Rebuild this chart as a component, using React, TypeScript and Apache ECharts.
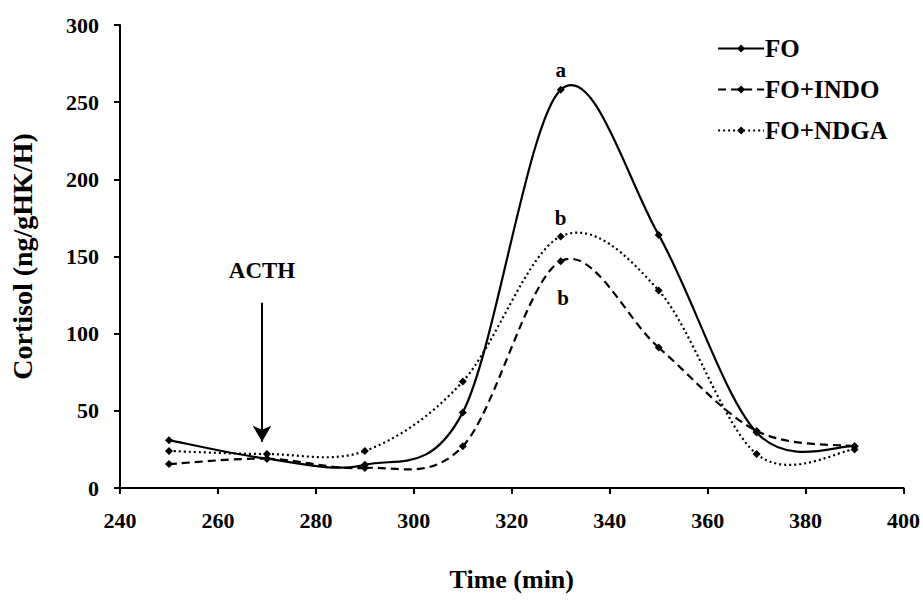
import React, { useEffect, useRef } from "react";
import * as echarts from "echarts";

const times = [250, 270, 290, 310, 330, 350, 370, 390];
const fo = [31, 19, 15, 49, 258, 164, 36, 27];
const foIndo = [15.5, 19, 13, 27, 147, 91, 37, 27];
const foNdga = [24, 22, 24, 69, 163, 128, 22, 25];

const xTicks = { min: 240, max: 400, interval: 20 };
const yTicks = { min: 0, max: 300, interval: 50 };

const annotations = [
  { text: "a", x: 330, y: 271 },
  { text: "b", x: 330, y: 175 },
  { text: "b", x: 330.5, y: 123 },
];
const acth = { text: "ACTH", x: 269, labelY: 141, from: 120, to: 30 };

const FONT = "Liberation Serif";
const LINE_W = 2.2;
const DASHES: Record<string, number[] | null> = {
  FO: null,
  "FO+INDO": [8, 5],
  "FO+NDGA": [2, 3],
};
const ECH_DASH: Record<string, any> = { FO: "solid", "FO+INDO": [8, 5], "FO+NDGA": [2, 3] };

export default function App() {
  const ref = useRef<HTMLDivElement>(null);
  useEffect(() => {
    if (!ref.current) return;
    const chart = echarts.init(ref.current, undefined, { renderer: "svg" });

    // Catmull-Rom (Excel-like) smoothed curve, one bezier segment per data item
    const curve = (name: string, vals: number[]) => ({
      name: name + " curve",
      type: "custom",
      silent: true,
      z: 2,
      data: times.map((t, i) => [t, vals[i]]),
      encode: { x: 0, y: 1 },
      renderItem: (params: any, api: any) => {
        const i = params.dataIndex;
        const n = times.length;
        if (i >= n - 1) return null;
        const P = (k: number) => {
          const kk = Math.max(0, Math.min(n - 1, k));
          return api.coord([times[kk], vals[kk]]);
        };
        const p0 = P(i - 1), p1 = P(i), p2 = P(i + 1), p3 = P(i + 2);
        const c1 = [p1[0] + (p2[0] - p0[0]) / 6, p1[1] + (p2[1] - p0[1]) / 6];
        const c2 = [p2[0] - (p3[0] - p1[0]) / 6, p2[1] - (p3[1] - p1[1]) / 6];
        const style: any = { stroke: "#000", lineWidth: LINE_W, fill: "none" };
        if (DASHES[name]) style.lineDash = DASHES[name];
        return {
          type: "bezierCurve",
          shape: { x1: p1[0], y1: p1[1], x2: p2[0], y2: p2[1], cpx1: c1[0], cpy1: c1[1], cpx2: c2[0], cpy2: c2[1] },
          style,
        };
      },
    });

    const marks = (name: string, vals: number[]) => ({
      name,
      type: "line",
      data: times.map((t, i) => [t, vals[i]]),
      symbol: "diamond",
      symbolSize: 8,
      itemStyle: { color: "#000" },
      lineStyle: { color: "#000", width: 0, opacity: 0 },
      z: 3,
    });

    const legendItem = (name: string) => ({
      name,
      itemStyle: { color: "#000" },
      lineStyle: { color: "#000", width: LINE_W, opacity: 1, type: ECH_DASH[name] },
    });

    chart.setOption({
      animation: false,
      backgroundColor: "#fff",
      textStyle: { fontFamily: FONT },
      grid: { left: 118, right: 19, top: 25, bottom: 113 },
      legend: {
        orient: "vertical",
        left: 712,
        top: 31,
        itemGap: 16,
        itemWidth: 46,
        itemHeight: 10,
        textStyle: { fontFamily: FONT, fontWeight: "bold", fontSize: 25, color: "#000", padding: [0, 0, 0, -4] },
        data: ["FO", "FO+INDO", "FO+NDGA"].map(legendItem),
      },
      xAxis: {
        type: "value",
        ...xTicks,
        name: "Time (min)",
        nameLocation: "middle",
        nameGap: 78,
        nameTextStyle: { fontFamily: FONT, fontWeight: "bold", fontSize: 26, color: "#000" },
        axisLine: { lineStyle: { color: "#000", width: 2 } },
        axisTick: { show: true, length: 6, lineStyle: { color: "#000", width: 2 } },
        axisLabel: { fontFamily: FONT, fontWeight: "bold", fontSize: 22, color: "#000", margin: 21 },
        splitLine: { show: false },
      },
      yAxis: {
        type: "value",
        ...yTicks,
        name: "Cortisol (ng/gHK/H)",
        nameLocation: "middle",
        nameGap: 84,
        nameTextStyle: { fontFamily: FONT, fontWeight: "bold", fontSize: 28, color: "#000" },
        axisLine: { show: true, lineStyle: { color: "#000", width: 2 } },
        axisTick: { show: true, length: 6, lineStyle: { color: "#000", width: 2 } },
        axisLabel: { fontFamily: FONT, fontWeight: "bold", fontSize: 22, color: "#000", margin: 21 },
        splitLine: { show: false },
      },
      series: [
        curve("FO", fo),
        curve("FO+INDO", foIndo),
        curve("FO+NDGA", foNdga),
        {
          ...marks("FO", fo),
          markLine: {
            silent: true,
            symbol: ["none", "arrow"],
            symbolSize: [14, 16],
            lineStyle: { color: "#000", width: 2, type: "solid", opacity: 1 },
            label: { show: false },
            data: [[{ coord: [acth.x, acth.from] }, { coord: [acth.x, acth.to] }]],
          },
          markPoint: {
            symbol: "circle",
            symbolSize: 0,
            label: {
              show: true,
              position: "inside",
              fontFamily: FONT,
              fontWeight: "bold",
              fontSize: 21,
              color: "#000",
              formatter: (p: any) => p.name,
            },
            data: [
              ...annotations.map((a) => ({ name: a.text, coord: [a.x, a.y] })),
              { name: acth.text, coord: [acth.x, acth.labelY], label: { fontSize: 23 } },
            ],
          },
        },
        marks("FO+INDO", foIndo),
        marks("FO+NDGA", foNdga),
      ],
    });
    return () => chart.dispose();
  }, []);
  return <div ref={ref} style={{ width: 923, height: 601, position: "absolute", left: 0, top: 0 }} />;
}
